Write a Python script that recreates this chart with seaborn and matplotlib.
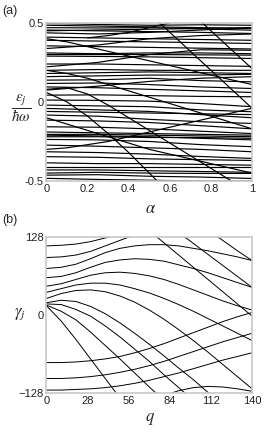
import numpy as np
import pandas as pd
import seaborn as sns
import matplotlib.pyplot as plt

# ---- panel (a): quasi-energies vs alpha ----
alpha_flat = [0, 0.25, 0.5, 0.75, 1.0]
flat_a = [
    [0.496, 0.49, 0.485, 0.488, 0.485],
    [0.485, 0.48, 0.475, 0.47, 0.465],
    [0.47, 0.468, 0.47, 0.462, 0.454],
    [0.455, 0.45, 0.445, 0.44, 0.433],
    [0.45, 0.455, 0.46, 0.465, 0.47],
    [0.437, 0.43, 0.44, 0.455, 0.47],
    [0.41, 0.405, 0.40, 0.395, 0.39],
    [0.39, 0.385, 0.38, 0.375, 0.37],
    [0.355, 0.35, 0.345, 0.34, 0.335],
    [0.338, 0.36, 0.40, 0.42, 0.43],
    [0.31, 0.305, 0.31, 0.31, 0.305],
    [0.30, 0.30, 0.30, 0.298, 0.296],
    [0.29, 0.288, 0.285, 0.28, 0.275],
    [0.24, 0.24, 0.235, 0.23, 0.225],
    [0.222, 0.25, 0.30, 0.33, 0.327],
    [0.20, 0.205, 0.20, 0.20, 0.20],
    [0.18, 0.185, 0.19, 0.185, 0.18],
    [0.16, 0.165, 0.17, 0.17, 0.175],
    [0.138, 0.14, 0.15, 0.135, 0.127],
    [0.117, 0.12, 0.11, 0.095, 0.085],
    [0.095, 0.09, 0.08, 0.07, 0.06],
    [0.075, 0.10, 0.13, 0.15, 0.16],
    [0.043, 0.045, 0.04, 0.035, 0.033],
    [0.012, 0.01, 0.005, -0.01, -0.03],
    [-0.02, -0.025, -0.03, -0.05, -0.062],
    [-0.041, -0.05, -0.06, -0.08, -0.10],
    [-0.06, -0.065, -0.07, -0.075, -0.08],
    [-0.083, -0.09, -0.11, -0.125, -0.136],
    [-0.115, -0.12, -0.13, -0.15, -0.17],
    [-0.157, -0.16, -0.17, -0.185, -0.20],
    [-0.19, -0.195, -0.20, -0.205, -0.21],
    [-0.205, -0.205, -0.21, -0.215, -0.22],
    [-0.21, -0.215, -0.22, -0.23, -0.24],
    [-0.22, -0.22, -0.225, -0.225, -0.23],
    [-0.237, -0.24, -0.25, -0.27, -0.283],
    [-0.273, -0.28, -0.29, -0.30, -0.315],
    [-0.315, -0.32, -0.33, -0.345, -0.357],
    [-0.346, -0.35, -0.36, -0.365, -0.37],
    [-0.385, -0.39, -0.39, -0.395, -0.40],
    [-0.41, -0.41, -0.41, -0.41, -0.41],
    [-0.43, -0.43, -0.435, -0.44, -0.445],
    [-0.45, -0.445, -0.45, -0.452, -0.452],
    [-0.463, -0.46, -0.47, -0.475, -0.484],
    [-0.483, -0.49, -0.495, -0.50, -0.50],
]
alpha_slant = [0, 0.1, 0.2, 0.3, 0.4, 0.5, 0.6, 0.7, 0.8, 0.9, 1.0]
nan = np.nan
slant_a = [
    [0.08, 0.09, 0.05, -0.02, -0.10, -0.18, -0.26, -0.34, -0.42, -0.50, nan],
    [0.06, 0.0, -0.09, -0.20, -0.32, -0.45, -0.58, nan, nan, nan, nan],
    [nan, nan, nan, nan, nan, 0.56, 0.44, 0.32, 0.20, 0.08, -0.04],
    [nan, nan, nan, nan, nan, nan, nan, 0.57, 0.45, 0.33, 0.21],
    [0.20, 0.18, 0.15, 0.11, 0.07, 0.03, -0.01, -0.05, -0.09, -0.13, -0.17],
    [-0.10, -0.14, -0.18, -0.22, -0.26, -0.30, -0.33, -0.36, -0.39, -0.42, -0.45],
    [0.40, 0.38, 0.35, 0.32, 0.29, 0.26, 0.23, 0.20, 0.17, 0.14, 0.11],
    [-0.30, -0.29, -0.27, -0.25, -0.22, -0.19, -0.16, -0.13, -0.10, -0.07, -0.04],
    [nan, nan, 0.405, 0.42, 0.44, 0.47, 0.50, nan, nan, nan, nan],
]

# ---- panel (b): gamma_j vs q ----
q_vals = [0, 10, 20, 30, 40, 50, 60, 70, 80, 90, 100, 110, 120, 130, 140]
curves_b = [
    [113, 114, 116, 120, 126, 132, nan, nan, nan, nan, nan, nan, nan, nan, nan],
    [94, 95, 98, 104, 113, 122, 131, nan, nan, nan, nan, nan, nan, nan, nan],
    [76, 78, 83, 92, 102, 109, 113, 115, 115, 113, 109, 105, 100, 95, 89],
    [61, 63, 69, 78, 86, 90, 92, 91, 88, 82, 76, 69, 61, 53, 45],
    [47, 51, 58, 65, 69, 70, 68, 64, 58, 50, 41, 32, 23, 15, 8],
    [37, 43, 49, 52, 52, 49, 43, 36, 27, 17, 6, -6, -18, -30, -42],
    [27, 35, 40, 41, 38, 31, 21, 8, -7, -24, -42, -61, -81, -101, -121],
    [20, 24, 22, 14, 2, -13, -30, -48, -67, -87, -106, -127, -148, nan, nan],
    [18, 17, 9, -2, -18, -36, -56, -76, -98, -119, -140, nan, nan, nan, nan],
    [16, 6, -8, -28, -50, -72, -95, -118, -140, nan, nan, nan, nan, nan, nan],
    [15, -10, -40, -72, -104, -136, nan, nan, nan, nan, nan, nan, nan, nan, nan],
    [nan, nan, nan, nan, nan, nan, nan, 138, 118, 98, 78, 58, 38, 18, -2],
    [nan, nan, nan, nan, nan, nan, nan, nan, nan, 135, 117, 99, 81, 63, 45],
    [nan, nan, nan, nan, nan, nan, nan, nan, nan, nan, nan, 139, 122, 105, 89],
    [-78, -78, -77, -75, -72, -68, -62, -55, -47, -38, -29, -20, -11, -3, 4],
    [-104, -104, -103, -101, -98, -94, -89, -83, -76, -68, -60, -52, -44, -37, -30],
    [-123, -123, -122, -121, -119, -116, -112, -107, -101, -95, -88, -81, -74, -68, -62],
    [nan, nan, nan, nan, nan, nan, nan, nan, -132, -124, -119, -117, -118, -121, -125],
]


def long_form(xs, rows):
    frames = []
    for i, row in enumerate(rows):
        frames.append(pd.DataFrame({"x": xs, "y": row, "line": i}))
    return pd.concat(frames).dropna()


df_flat = long_form(alpha_flat, flat_a)
df_slant = long_form(alpha_slant, slant_a)
df_slant["line"] += 100
df_a = pd.concat([df_flat, df_slant])
df_b = long_form(q_vals, curves_b)

sns.set_style("white")
plt.rcParams["font.family"] = ["Liberation Sans", "DejaVu Sans"]
plt.rcParams["mathtext.fontset"] = "stix"

fig = plt.figure(figsize=(2.64, 4.32), dpi=100)
ax_a = fig.add_axes([0.176, 0.581, 0.779, 0.366])
ax_b = fig.add_axes([0.176, 0.090, 0.779, 0.362])

sns.lineplot(data=df_a, x="x", y="y", units="line", estimator=None,
             color="black", lw=0.85, ax=ax_a, legend=False)
sns.lineplot(data=df_b, x="x", y="y", units="line", estimator=None,
             color="black", lw=0.7, ax=ax_b, legend=False)

ax_a.set_xlim(0, 1)
ax_a.set_ylim(-0.5, 0.5)
ax_a.set_xticks([0, 0.2, 0.4, 0.6, 0.8, 1])
ax_a.set_xticklabels(["0", "0.2", "0.4", "0.6", "0.8", "1"])
ax_a.set_yticks([-0.5, 0, 0.5])
ax_a.set_yticklabels(["-0.5", "0", "0.5"])

ax_b.set_xlim(0, 140)
ax_b.set_ylim(-128, 128)
ax_b.set_xticks([0, 28, 56, 84, 112, 140])
ax_b.set_yticks([-128, 0, 128])

for ax in (ax_a, ax_b):
    ax.set_xlabel("")
    ax.set_ylabel("")
    ax.tick_params(labelsize=8, length=0, pad=2, colors="#222222")
    for s in ax.spines.values():
        s.set_color("#c8c8c8")
        s.set_linewidth(1.2)

fig.text(0.01, 0.975, "(a)", fontsize=9, va="center")
fig.text(0.01, 0.49, "(b)", fontsize=9, va="center")
fig.text(0.57, 0.518, r"$\alpha$", fontsize=12, ha="center", va="center")
fig.text(0.57, 0.03, r"$q$", fontsize=12, ha="center", va="center")
fig.text(0.08, 0.75, r"$\dfrac{\varepsilon_j}{\hbar\omega}$", fontsize=11,
         ha="center", va="center")
fig.text(0.075, 0.272, r"$\gamma_j$", fontsize=12, ha="center", va="center")

fig.savefig("out.png", dpi=100)
